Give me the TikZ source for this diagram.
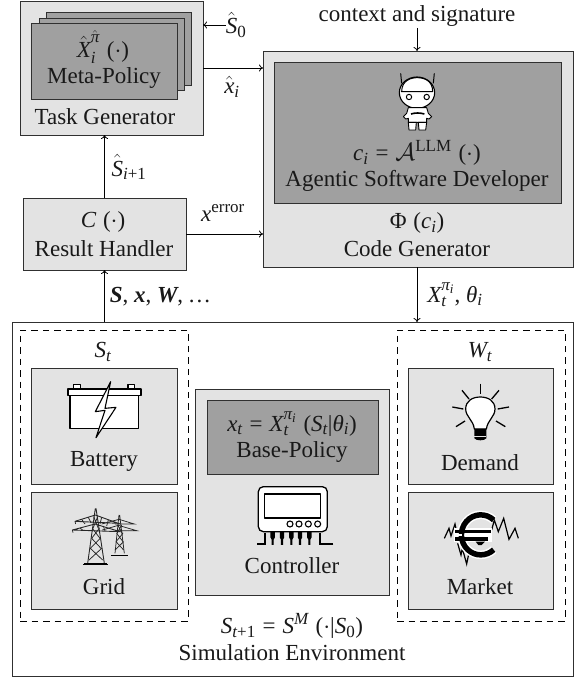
\documentclass[tikz,border=0pt]{standalone}
\usepackage{amsmath,amssymb}
\usepackage{fontspec}
\setmainfont{Liberation Serif}
\usetikzlibrary{arrows.meta}
\DeclareMathSizes{23}{23}{17}{13}
\definecolor{lightbox}{HTML}{E3E3E3}
\definecolor{darkbox}{HTML}{A0A0A0}
\definecolor{edge}{HTML}{303030}
\newcommand{\mi}[1]{\text{\itshape #1}}
\newcommand{\mb}[1]{\text{\bfseries\itshape #1}}
\newcommand{\up}[1]{\text{#1}}
\newcommand{\pp}[1]{\;\up{(}#1\up{)}}
\tikzset{
  box/.style={draw=edge,line width=.9pt,fill=lightbox,inner sep=0pt,outer sep=0pt},
  dbox/.style={draw=edge,line width=.9pt,fill=darkbox,inner sep=0pt,outer sep=0pt},
  simbox/.style={draw=edge,line width=.9pt,fill=white,inner sep=0pt,outer sep=0pt},
  dashbox/.style={draw=black,line width=.8pt,dash pattern=on 6.5pt off 5pt,inner sep=0pt,outer sep=0pt},
  lab/.style={inner sep=0pt,outer sep=0pt,text=black!90,font=\fontsize{23}{27}\selectfont,anchor=center},
  conn/.style={draw=black,line width=.8pt,-{Computer Modern Rightarrow[length=4pt,width=7pt]}},
  ic/.style={line width=.9pt,draw=black,fill=white,line join=round},
}
\begin{document}
\begin{tikzpicture}[x=1pt,y=-1pt]
\useasboundingbox (0,0) rectangle (579,677);
% Task generator
\node[box,minimum width=183pt,minimum height=134pt] (tg) at (111.5,68) {};
\node[dbox,minimum width=145pt,minimum height=73pt] (s3) at (118.5,48.5) {};
\node[dbox,minimum width=145pt,minimum height=72pt] (s2) at (111.5,54) {};
\node[dbox,minimum width=146pt,minimum height=76pt] (s1) at (104,61.5) {};
\node[lab] (xpol) at (103,47) {$\hat{\mi{X}}_{\mi{i}}^{\hat{\mi{π}}}\pp{{\cdot}}$};
\node[lab] (mp) at (104,78) {Meta-Policy};
\node[lab] (tgl) at (105,117) {Task Generator};
% Result handler
\node[box,minimum width=163pt,minimum height=72pt] (rh) at (104.5,234) {};
\node[lab] (cf) at (103,222) {$\mi{C}\pp{{\cdot}}$};
\node[lab] (rhl) at (104,249) {Result Handler};
% Code generator
\node[box,minimum width=310pt,minimum height=216pt] (cg) at (418,159) {};
\node[dbox,minimum width=287pt,minimum height=141pt] (asd) at (417.5,132.5) {};
\node[lab] (ci) at (417,153) {$\mi{c}_{\mi{i}}\;\up{=}\;\mathcal{A}^{\up{LLM}}\pp{{\cdot}}$};
\node[lab] (asdl) at (417,181) {Agentic Software Developer};
\node[lab] (phi) at (417,223) {$\up{Φ}\pp{\mi{c}_{\mi{i}}}$};
\node[lab] (cgl) at (417,249) {Code Generator};
\node[lab] (ctx) at (417,16) {context and signature};
\coordinate (ctxa) at (417,28);
% Simulation
\node[simbox,minimum width=561pt,minimum height=354pt] (sim) at (292.5,499) {};
\node[dashbox,minimum width=168pt,minimum height=291pt] (st) at (104,475.5) {};
\node[dashbox,minimum width=168pt,minimum height=291pt] (wt) at (481,475.5) {};
\node[lab] (stl) at (103,352) {$\mi{S}_{\mi{t}}$};
\node[lab] (wtl) at (480,352) {$\mi{W}_{\mi{t}}$};
\node[box,minimum width=146pt,minimum height=116pt] (bat) at (104,426) {};
\node[box,minimum width=146pt,minimum height=117pt] (grid) at (104,550.5) {};
\node[box,minimum width=145pt,minimum height=116pt] (dem) at (480.5,426) {};
\node[box,minimum width=145pt,minimum height=117pt] (mkt) at (480.5,550.5) {};
\node[box,minimum width=194pt,minimum height=206pt] (ctl) at (292,492) {};
\node[dbox,minimum width=171pt,minimum height=74pt] (bp) at (292.5,437) {};
\node[lab] (batl) at (104,461) {Battery};
\node[lab] (gridl) at (104,587) {Grid};
\node[lab] (deml) at (480,463) {Demand};
\node[lab] (mktl) at (480,587) {Market};
\node[lab] (xt) at (292,424) {$\mi{x}_{\mi{t}}\;\up{=}\;\mi{X}_{\mi{t}}^{\mi{π}_{\mi{i}}}\pp{\mi{S}_{\mi{t}}\up{|}\mi{θ}_{\mi{i}}}$};
\node[lab] (bpl) at (292,452) {Base-Policy};
\node[lab] (ctll) at (292,566) {Controller};
\node[lab] (sm) at (292,626) {$\mi{S}_{\mi{t}\up{+1}}\;\up{=}\;\mi{S}^{\mi{M}}\pp{{\cdot}\up{|}\mi{S}_{\up{0}}}$};
\node[lab] (siml) at (292,653) {Simulation Environment};
% Edge labels
\node[lab] (s0) at (236,25) {$\hat{\mi{S}}_{\up{0}}$};
\node[lab] (xhat) at (232,87) {$\hat{\mi{x}}_{\mi{i}}$};
\node[lab] (snext) at (129,167) {$\hat{\mi{S}}_{\mi{i}\up{+1}}$};
\node[lab] (xerr) at (223,213) {$\mi{x}^{\up{error}}$};
\node[lab] (sxw) at (160,297) {$\mb{S}\up{, }\mb{x}\up{, }\mb{W}\up{, .\kern2pt.\kern2pt.}$};
\node[lab] (xth) at (455,295) {$\mi{X}_{\mi{t}}^{\mi{π}_{\mi{i}}}\up{, }\mi{θ}_{\mi{i}}$};
% Connectors
\draw[conn] (s0.west) -- (tg.east |- s0.west);
\draw[conn] (tg.east) -- (tg.east -| cg.west);
\draw[conn] (rh.north) -- (rh.north |- tg.south);
\draw[conn] (rh.east) -- (rh.east -| cg.west);
\draw[conn] (rh.south |- sim.north) -- (rh.south);
\draw[conn] (cg.south -| ctxa) -- (ctxa |- sim.north);
\draw[conn] (ctxa) -- (ctxa |- cg.north);
% Robot
\begin{scope}[shift={(385,65)},x=.3333pt,y=-.3333pt]
 \draw[ic,line width=1pt] (47,25) -- (50,55);
 \draw[ic,line width=1pt] (148,25) -- (145,55);
 \draw[ic,line width=1.1pt] (96,83) ellipse (53 and 47);
 \draw[line width=1pt] (50,80) .. controls (50,45) and (80,38) .. (96,38) .. controls (115,38) and (143,45) .. (143,80) -- cycle;
 \draw[line width=1pt] (72,96) circle (8) (125,96) circle (8);
 \draw[ic] (70,128) -- (125,128) -- (130,145) -- (140,155) -- (132,162) -- (125,160) -- (125,172) -- (70,172) -- (70,160) -- (62,162) -- (55,155) -- (65,145) -- cycle;
 \draw[line width=1.6pt] (78,147) .. controls (90,143) and (105,143) .. (118,147);
 \draw[ic] (70,172) -- (72,195) -- (92,195) -- (94,172) -- cycle;
 \draw[ic] (100,172) -- (102,195) -- (122,195) -- (125,172) -- cycle;
\end{scope}
% Battery
\begin{scope}[shift={(60,375)},x=.3333pt,y=-.3333pt]
 \draw[ic,line width=1.1pt] (30,62) rectangle (236,160);
 \draw[ic,line width=1.1pt] (40,42) rectangle (62,29);
 \draw[ic,line width=1.1pt] (204,42) rectangle (224,29);
 \draw[ic,line width=1.1pt] (24,42) rectangle (243,62);
 \draw[ic,line width=1.1pt] (152,20) -- (106,110) -- (135,106) -- (108,188) -- (168,97) -- (135,100) -- cycle;
\end{scope}
% Grid
\begin{scope}[shift={(65,500)},x=.3333pt,y=-.3333pt]
 \tikzset{twr/.style={line width=.75pt,draw=black!85}}
 % small tower
 \draw[twr] (162,45) -- (150,160) (164,45) -- (178,160);
 \draw[twr] (155,100) -- (174,125) (174,100) -- (153,125) (153,125) -- (176,150) (176,125) -- (150,150) (158,75)--(172,100) (170,75)--(156,100);
 \draw[twr] (110,72) -- (162,58) -- (208,72) -- (150,72) (112,90) -- (160,76) -- (215,92) -- (150,92);
 \draw[line width=1.6pt] (138,166) -- (190,166);
 % big tower
 \draw[twr,line width=.9pt] (91,25) -- (68,190) (93,25) -- (118,190);
 \draw[twr] (82,85) -- (105,115) (103,85) -- (80,115) (80,115) -- (108,145) (106,115) -- (76,145) (76,145) -- (113,180) (110,145) -- (72,180) (86,50)--(100,85) (98,50)--(84,85);
 \draw[twr,line width=.9pt] (30,64) -- (91,45) -- (160,70) -- (30,64) (22,90) -- (90,72) -- (165,95) -- (22,90);
 \draw[twr] (50,58) -- (60,72) (70,52) -- (78,68) (110,52) -- (105,72) (130,60) -- (125,78) (45,84) -- (55,92) (115,78) -- (120,93) (30,64) -- (32,72) (22,90) -- (24,98);
 \draw[line width=1.5pt] (55,194) -- (130,194);
 \draw[line width=.8pt] (58,190) -- (126,190);
\end{scope}
% Controller
\begin{scope}[shift={(250,480)},x=.3333pt,y=-.3333pt]
 \draw[line width=2pt] (22,192) -- (46,192) -- (46,160);
 \draw[line width=2pt] (250,192) -- (210,192) -- (210,160);
 \foreach \xx in {68,96,124,150,178}{
  \draw[line width=1.1pt,fill=black] (\xx-5,155) -- (\xx-5,172) -- (\xx-1.5,178) -- (\xx-1.5,193) -- (\xx+1.5,193) -- (\xx+1.5,178) -- (\xx+5,172) -- (\xx+5,155);
 }
 \draw[ic,line width=1.3pt,rounded corners=5pt] (25,20) rectangle (232,155);
 \draw[ic,line width=1.2pt] (44,42) rectangle (212,114);
 \foreach \xx in {120,147,175,203}{\draw[line width=1.1pt] (\xx,132) circle (9);}
\end{scope}
% Bulb
\begin{scope}[shift={(445,375)},x=.3333pt,y=-.3333pt]
 \draw[ic,line width=1.2pt] (88,162) .. controls (85,135) and (62,125) .. (62,102) .. controls (62,78) and (82,66) .. (106,66) .. controls (130,66) and (150,78) .. (150,102) .. controls (150,125) and (128,135) .. (124,162) -- cycle;
 \fill (88,162) -- (124,162) -- (124,190) .. controls (118,198) and (94,198) .. (88,190) -- cycle;
 \draw[lightbox,line width=.5pt] (88,183) -- (124,183);
 \foreach \a/\b/\c/\d in {106/26/106/58, 51/46/72/72, 162/46/140/72, 22/96/55/102, 192/96/158/102, 33/155/60/138, 181/155/153/138}{
  \draw[line width=1.3pt] (\a,\b) -- (\c,\d);}
\end{scope}
% Euro
\begin{scope}[shift={(435,500)},x=.3333pt,y=-.3333pt]
 \draw[line width=1.2pt] (28,115) -- (42,85) -- (48,108) -- (60,72) -- (66,100);
 \draw[line width=1.2pt] (68,130) -- (78,165) -- (82,145) -- (95,192) -- (102,158);
 \draw[line width=1.2pt] (170,90) -- (178,60) -- (190,95) -- (206,55) -- (222,118) -- (240,85) -- (250,115);
 \draw[white,line width=8.5pt] (176,60) arc (-48:-312:58 and 60);
 \fill[white] (58,85) rectangle (170,125);
 \draw[black,line width=5.5pt] (176,60) arc (-48:-312:58 and 60);
 \fill[black] (60,89) rectangle (168,99);
 \fill[black] (60,112) rectangle (160,122);
 \fill[white] (66,102) rectangle (80,108);
 \fill[white] (112,102) rectangle (126,107);
 \fill[white] (140,102) rectangle (160,107);
 \fill[black] (122,125) -- (150,125) -- (140,135) -- (130,135) -- cycle;
\end{scope}
\end{tikzpicture}
\end{document}
